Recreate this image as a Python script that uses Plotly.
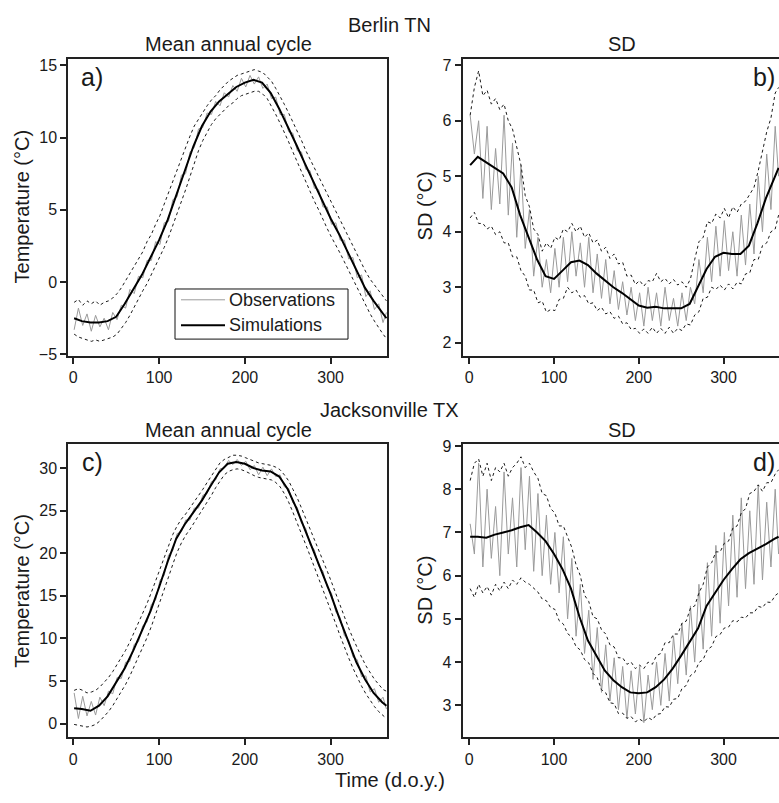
import plotly.graph_objects as go

W, H = 779, 803

# x grids (day of year)
DAYS5 = list(range(1, 362, 5)) + [365]
DAYS10 = [1] + list(range(10, 361, 10)) + [365]

# ---------------- Berlin TN : mean annual cycle (deg C) ----------------
berlin_mean_obs = [
    -3.3, -1.8, -3.0, -2.2, -3.4, -2.3, -3.1, -2.5, -3.3, -2.1,
    -2.6, -1.6, -1.8, -0.5, -0.8, 0.4, 0.3, 1.5, 1.5, 2.8,
    2.6, 4.1, 4.2, 5.7, 5.9, 7.4, 7.5, 9.0, 9.3, 10.6,
    10.7, 11.7, 11.6, 12.5, 12.2, 13.1, 12.8, 13.6, 13.2, 14.1,
    13.5, 14.3, 13.7, 14.2, 13.4, 13.7, 12.7, 12.8, 11.6, 11.6,
    10.4, 10.3, 9.1, 9.0, 7.8, 7.7, 6.5, 6.4, 5.2, 5.2,
    4.0, 4.1, 2.9, 2.9, 1.6, 1.7, 0.3, 0.5, -1.0, -0.6,
    -1.9, -1.5, -2.8, -2.1]
berlin_mean_upper = [
    -1.4, -1.2, -1.6, -1.3, -1.5, -1.3, -1.6, -1.4, -1.3, -1.1,
    -0.8, -0.4, 0.1, 0.6, 1.0, 1.6, 2.1, 2.8, 3.3, 4.0,
    4.6, 5.4, 6.2, 7.0, 7.8, 8.6, 9.3, 10.1, 10.8, 11.3,
    11.8, 12.2, 12.6, 12.9, 13.3, 13.6, 13.9, 14.1, 14.3, 14.4,
    14.5, 14.6, 14.7, 14.6, 14.5, 14.2, 13.9, 13.4, 12.9, 12.3,
    11.7, 11.1, 10.4, 9.8, 9.1, 8.5, 7.8, 7.2, 6.6, 6.0,
    5.4, 4.9, 4.3, 3.7, 3.1, 2.5, 1.9, 1.3, 0.7, 0.2,
    -0.2, -0.6, -1.0, -1.3]
berlin_mean_lower = [
    -3.6, -3.8, -3.9, -4.0, -4.1, -4.0, -4.1, -4.0, -3.9, -3.8,
    -3.6, -3.2, -2.8, -2.3, -1.7, -1.2, -0.6, -0.1, 0.5, 1.1,
    1.7, 2.4, 3.1, 3.9, 4.7, 5.6, 6.4, 7.3, 8.2, 9.1,
    9.8, 10.4, 10.9, 11.3, 11.6, 11.9, 12.2, 12.4, 12.7, 12.9,
    13.0, 13.1, 13.2, 13.2, 13.0, 12.7, 12.2, 11.6, 11.0, 10.4,
    9.7, 9.0, 8.3, 7.6, 7.0, 6.3, 5.6, 5.0, 4.3, 3.7,
    3.1, 2.6, 2.0, 1.4, 0.8, 0.1, -0.5, -1.1, -1.7, -2.2,
    -2.7, -3.2, -3.6, -3.9]
berlin_mean_sim = [
    -2.5, -2.7, -2.8, -2.8, -2.7, -2.4, -1.5, -0.5, 0.5, 1.7,
    2.9, 4.3, 6.0, 7.6, 9.4, 10.8, 11.8, 12.5, 13.0, 13.5,
    13.8, 14.0, 13.8, 13.1, 12.0, 10.8, 9.5, 8.2, 6.9, 5.6,
    4.4, 3.3, 2.1, 0.8, -0.4, -1.3, -2.1,
    -2.5]

# ---------------- Berlin TN : SD (deg C) ----------------
berlin_sd_obs = [
    6.1, 5.4, 6.0, 4.6, 5.9, 4.4, 5.5, 4.5, 6.1, 4.3,
    5.6, 3.9, 5.2, 3.7, 4.4, 3.2, 3.9, 3.0, 3.5, 2.9,
    3.7, 3.0, 3.9, 3.1, 4.0, 3.2, 3.8, 3.0, 3.9, 2.9,
    3.6, 2.8, 3.5, 2.7, 3.3, 2.6, 3.1, 2.5, 3.0, 2.4,
    2.9, 2.3, 3.0, 2.4, 2.9, 2.3, 3.0, 2.4, 2.8, 2.3,
    2.9, 2.4, 3.0, 2.7, 3.5, 2.9, 3.9, 3.1, 4.1, 3.2,
    4.2, 3.3, 4.0, 3.2, 4.3, 3.4, 4.5, 3.6, 5.0, 4.0,
    5.4, 4.4, 5.9, 5.0]
berlin_sd_upper = [
    6.1, 6.6, 6.9, 6.45, 6.55, 6.3, 6.4, 6.2, 6.3, 6.0,
    5.85, 5.5, 5.2, 4.65, 4.45, 4.05, 3.95, 3.65, 3.8, 3.7,
    3.9, 3.85, 4.05, 4.0, 4.15, 4.0, 4.1, 3.9, 3.98, 3.8,
    3.85, 3.65, 3.72, 3.52, 3.6, 3.42, 3.45, 3.2, 3.22, 3.05,
    3.12, 3.02, 3.12, 3.1, 3.25, 3.1, 3.16, 3.06, 3.14, 3.04,
    3.1, 3.0, 3.15, 3.5, 3.82, 3.9, 4.18, 4.15, 4.32, 4.25,
    4.42, 4.25, 4.45, 4.35, 4.5, 4.55, 4.68, 4.8, 5.1, 5.45,
    5.8, 6.05, 6.5, 6.6]
berlin_sd_lower = [
    4.25, 4.35, 4.15, 4.15, 4.05, 4.1, 3.95, 4.0, 3.8, 3.8,
    3.55, 3.55, 3.3, 3.2, 2.95, 2.95, 2.72, 2.75, 2.55, 2.6,
    2.58, 2.78, 2.8, 3.0, 2.9, 2.95, 2.82, 2.85, 2.7, 2.72,
    2.58, 2.64, 2.52, 2.56, 2.44, 2.48, 2.34, 2.36, 2.24, 2.26,
    2.17, 2.25, 2.17, 2.28, 2.17, 2.26, 2.17, 2.28, 2.17, 2.26,
    2.22, 2.34, 2.32, 2.5, 2.56, 2.8, 2.82, 3.0, 2.96, 3.04,
    2.95, 3.06, 2.97, 3.09, 3.06, 3.24, 3.26, 3.5, 3.5, 3.75,
    3.8, 4.0, 4.05, 4.3]
berlin_sd_sim = [
    5.2, 5.35, 5.25, 5.15, 5.05, 4.8, 4.3, 3.9, 3.5, 3.2,
    3.15, 3.3, 3.45, 3.48, 3.4, 3.25, 3.12, 3.0, 2.9, 2.78,
    2.67, 2.63, 2.65, 2.62, 2.62, 2.62, 2.7, 3.02, 3.33, 3.55,
    3.62, 3.6, 3.6, 3.75, 4.15, 4.6, 4.95,
    5.15]

# ---------------- Jacksonville TX : mean annual cycle (deg C) ----------------
jax_mean_obs = [
    3.6, 0.6, 3.2, 0.9, 2.6, 1.0, 3.1, 2.1, 3.8, 3.5,
    5.4, 5.3, 7.2, 7.3, 9.3, 9.6, 11.5, 11.9, 14.0, 14.5,
    16.8, 17.4, 19.8, 20.3, 22.3, 22.5, 23.9, 23.9, 25.3, 25.3,
    26.8, 27.0, 28.4, 28.6, 29.9, 30.0, 30.9, 30.4, 31.0, 30.3,
    30.8, 29.8, 30.3, 29.2, 30.1, 29.1, 29.9, 29.0, 29.2, 27.8,
    27.6, 25.9, 25.4, 23.5, 22.9, 21.0, 20.4, 18.5, 17.9, 16.0,
    15.3, 13.1, 12.5, 10.3, 9.8, 7.8, 7.5, 5.5, 5.6, 3.7,
    4.1, 2.5, 3.1, 1.7]
jax_mean_upper = [
    3.9, 4.1, 3.9, 3.6, 3.7, 3.9, 4.3, 4.8, 5.4, 6.1,
    6.9, 7.7, 8.6, 9.6, 10.7, 11.8, 12.9, 14.1, 15.4, 16.8,
    18.2, 19.6, 21.0, 22.2, 23.2, 24.0, 24.6, 25.3, 26.0, 26.7,
    27.5, 28.3, 29.1, 29.9, 30.6, 31.0, 31.3, 31.5, 31.5, 31.4,
    31.2, 31.0, 30.8, 30.6, 30.5, 30.4, 30.3, 30.1, 29.8, 29.2,
    28.5, 27.5, 26.5, 25.3, 24.1, 22.9, 21.7, 20.5, 19.2, 17.9,
    16.6, 15.2, 13.8, 12.5, 11.2, 10.0, 8.8, 7.8, 6.8, 6.0,
    5.2, 4.6, 4.0, 3.8]
jax_mean_lower = [
    -0.1, -0.2, -0.3, -0.4, -0.3, -0.1, 0.3, 0.8, 1.4, 2.1,
    2.9, 3.7, 4.6, 5.6, 6.7, 7.8, 8.9, 10.1, 11.4, 12.8,
    14.2, 15.7, 17.2, 18.7, 20.1, 21.2, 22.1, 22.8, 23.6, 24.4,
    25.1, 25.9, 26.8, 27.7, 28.5, 29.2, 29.6, 29.8, 29.9, 29.8,
    29.6, 29.3, 29.1, 28.9, 28.8, 28.7, 28.6, 28.3, 27.8, 27.0,
    26.0, 24.8, 23.6, 22.3, 21.0, 19.7, 18.4, 17.1, 15.8, 14.5,
    13.1, 11.7, 10.3, 8.9, 7.7, 6.5, 5.4, 4.4, 3.5, 2.7,
    2.0, 1.4, 0.9, 0.6]
jax_mean_sim = [
    1.8, 1.7, 1.5, 2.1, 3.2, 4.8, 6.5, 8.6, 10.8, 13.2,
    16.0, 19.0, 21.7, 23.4, 24.8, 26.2, 27.9, 29.5, 30.5, 30.7,
    30.5, 30.0, 29.7, 29.6, 29.0, 27.5, 25.3, 22.8, 20.3, 17.8,
    15.2, 12.4, 9.7, 7.2, 5.2, 3.6, 2.5,
    2.1]

# ---------------- Jacksonville TX : SD (deg C) ----------------
jax_sd_obs = [
    7.2, 6.5, 8.6, 6.2, 8.0, 6.4, 7.6, 6.0, 8.4, 6.5,
    7.8, 6.2, 8.5, 6.6, 8.3, 6.1, 7.9, 6.0, 7.4, 5.8,
    7.0, 5.6, 6.9, 5.0, 6.4, 4.6, 5.8, 4.2, 5.2, 3.6,
    4.8, 3.3, 4.4, 3.1, 4.1, 2.9, 3.9, 2.7, 3.8, 2.8,
    3.9, 2.6, 3.7, 2.9, 4.0, 3.0, 4.2, 3.1, 4.6, 3.5,
    4.9, 3.7, 5.3, 4.0, 5.8, 4.3, 6.3, 4.6, 6.7, 4.9,
    7.0, 5.3, 7.4, 5.5, 7.8, 5.7, 7.5, 5.8, 8.1, 5.9,
    7.7, 6.2, 8.0, 6.5]
jax_sd_upper = [
    8.2, 8.6, 8.7, 8.3, 8.6, 8.2, 8.5, 8.4, 8.6, 8.3,
    8.5, 8.6, 8.75, 8.5, 8.6, 8.4, 8.25, 7.9, 7.85, 7.55,
    7.45, 7.15, 7.15, 6.9, 6.65, 6.25, 6.0, 5.55, 5.4, 5.05,
    5.0, 4.75, 4.65, 4.4, 4.35, 4.1, 4.1, 3.95, 4.0, 3.85,
    3.93, 3.85, 4.0, 3.95, 4.15, 4.2, 4.45, 4.45, 4.65, 4.65,
    4.9, 4.95, 5.25, 5.3, 5.6, 5.8, 6.2, 6.3, 6.55, 6.55,
    6.75, 6.8, 7.1, 7.15, 7.45, 7.55, 7.9, 7.95, 8.1, 7.95,
    8.15, 8.15, 8.35, 8.45]
jax_sd_lower = [
    5.7, 5.5, 5.8, 5.6, 5.75, 5.55, 5.8, 5.65, 5.85, 5.7,
    5.9, 5.8, 5.95, 5.85, 5.8, 5.7, 5.62, 5.46, 5.42, 5.26,
    5.22, 4.96, 4.88, 4.66, 4.58, 4.36, 4.28, 4.06, 3.98, 3.74,
    3.64, 3.36, 3.29, 3.06, 3.04, 2.81, 2.82, 2.7, 2.74, 2.62,
    2.68, 2.62, 2.72, 2.66, 2.79, 2.81, 2.97, 2.96, 3.14, 3.16,
    3.39, 3.46, 3.69, 3.76, 3.99, 4.06, 4.29, 4.36, 4.59, 4.64,
    4.79, 4.81, 4.96, 4.93, 5.04, 5.02, 5.14, 5.14, 5.29, 5.26,
    5.39, 5.38, 5.54, 5.6]
jax_sd_sim = [
    6.9, 6.9, 6.88, 6.95, 7.0, 7.05, 7.12, 7.17, 7.0, 6.8,
    6.5, 6.15, 5.7, 5.05, 4.5, 4.15, 3.8, 3.58, 3.42, 3.3,
    3.28, 3.3, 3.42, 3.6, 3.85, 4.15, 4.45, 4.78, 5.3, 5.6,
    5.9, 6.15, 6.38, 6.52, 6.62, 6.73, 6.85,
    6.9]

X_TICKS = [0, 100, 200, 300]
TICKS_A = [-5, 0, 5, 10, 15]
TICKS_B = [2, 3, 4, 5, 6, 7]
TICKS_C = [0, 5, 10, 15, 20, 25, 30]
TICKS_D = [3, 4, 5, 6, 7, 8, 9]
LEGEND_LABELS = ["Observations", "Simulations"]

FONT = "Liberation Sans, Arial, Helvetica, sans-serif"
OBS_COL = "#9a9a9a"
LINE_COL = "#1a1a1a"
TEXT_COL = "#1a1a1a"


def fx(p):
    return p / W


def fy(p):
    return 1 - p / H


fig = go.Figure()

panels = [
    ("x", "y", berlin_mean_obs, berlin_mean_upper, berlin_mean_lower, berlin_mean_sim),
    ("x2", "y2", berlin_sd_obs, berlin_sd_upper, berlin_sd_lower, berlin_sd_sim),
    ("x3", "y3", jax_mean_obs, jax_mean_upper, jax_mean_lower, jax_mean_sim),
    ("x4", "y4", jax_sd_obs, jax_sd_upper, jax_sd_lower, jax_sd_sim),
]

for xa, ya, obs, up, lo, sim in panels:
    fig.add_trace(go.Scatter(x=DAYS5, y=obs, xaxis=xa, yaxis=ya, mode="lines",
                             line=dict(color=OBS_COL, width=1), name=LEGEND_LABELS[0],
                             showlegend=False, hoverinfo="skip"))
    for env in (up, lo):
        fig.add_trace(go.Scatter(x=DAYS5, y=env, xaxis=xa, yaxis=ya, mode="lines",
                                 line=dict(color=LINE_COL, width=1, dash="dot"),
                                 showlegend=False, hoverinfo="skip"))
    fig.add_trace(go.Scatter(x=DAYS10, y=sim, xaxis=xa, yaxis=ya, mode="lines",
                             line=dict(color="#000000", width=2), name=LEGEND_LABELS[1],
                             showlegend=False, hoverinfo="skip"))

# pixel geometry
L_LEFT, L_RIGHT = 68.3, 387.3
R_LEFT, R_RIGHT = 462.7, 779.0
T_TOP, T_BOT = 53.3, 355.0
B_TOP, B_BOT = 445.0, 743.3

common_axis = dict(showgrid=False, zeroline=False, showline=True, linecolor="#222222",
                   linewidth=2, ticks="outside", ticklen=6, tickwidth=1.5,
                   tickcolor="#222222", tickfont=dict(family=FONT, size=16, color=TEXT_COL))

fig.update_layout(
    width=W, height=H,
    margin=dict(l=0, r=0, t=0, b=0),
    paper_bgcolor="white", plot_bgcolor="white",
    font=dict(family=FONT, color=TEXT_COL),
    showlegend=False,
    xaxis=dict(domain=[fx(L_LEFT), fx(L_RIGHT)], range=[-5.8, 366], tickvals=X_TICKS,
               mirror=True, anchor="y", **common_axis),
    yaxis=dict(domain=[fy(T_BOT), fy(T_TOP)], range=[-5.1, 15.41], tickvals=TICKS_A,
               mirror=True, anchor="x", **common_axis),
    xaxis2=dict(domain=[fx(R_LEFT), fx(R_RIGHT)], range=[-7.8, 365.5], tickvals=X_TICKS,
                mirror=True, anchor="y2", **common_axis),
    yaxis2=dict(domain=[fy(T_BOT), fy(T_TOP)], range=[1.765, 7.106], tickvals=TICKS_B,
                mirror=False, anchor="x2", **common_axis),
    xaxis3=dict(domain=[fx(L_LEFT), fx(L_RIGHT)], range=[-5.8, 366], tickvals=X_TICKS,
                mirror=True, anchor="y3", **common_axis),
    yaxis3=dict(domain=[fy(B_BOT), fy(B_TOP)], range=[-1.615, 32.79], tickvals=TICKS_C,
                mirror=True, anchor="x3", **common_axis),
    xaxis4=dict(domain=[fx(R_LEFT), fx(R_RIGHT)], range=[-7.8, 365.5], tickvals=X_TICKS,
                mirror=True, anchor="y4", **common_axis),
    yaxis4=dict(domain=[fy(B_BOT), fy(B_TOP)], range=[2.26, 9.04], tickvals=TICKS_D,
                mirror=False, anchor="x4", **common_axis),
)

# legend box (panel a)
fig.add_shape(type="rect", xref="paper", yref="paper",
              x0=fx(175), x1=fx(348), y0=fy(338), y1=fy(287),
              line=dict(color="#111111", width=1), fillcolor="white", layer="above")
fig.add_shape(type="line", xref="paper", yref="paper",
              x0=fx(181), x1=fx(225), y0=fy(298), y1=fy(298),
              line=dict(color=OBS_COL, width=1), layer="above")
fig.add_shape(type="line", xref="paper", yref="paper",
              x0=fx(181), x1=fx(225), y0=fy(324), y1=fy(324),
              line=dict(color="#000000", width=2), layer="above")

TXT = dict(family=FONT, size=20, color=TEXT_COL)
LAB = dict(family=FONT, size=25, color=TEXT_COL)
LEG = dict(family=FONT, size=18, color=TEXT_COL)
ann = [
    ("Berlin TN", 389.5, 18, 0, TXT, "center"),
    ("Mean annual cycle", 228, 38, 0, TXT, "center"),
    ("SD", 622, 38, 0, TXT, "center"),
    ("Jacksonville TX", 389.5, 410, 0, TXT, "center"),
    ("Mean annual cycle", 228, 430, 0, TXT, "center"),
    ("SD", 622, 430, 0, TXT, "center"),
    ("Time (d.o.y.)", 389.5, 787, 0, TXT, "center"),
    ("Temperature (°C)", 22, 203, -90, TXT, "center"),
    ("Temperature (°C)", 22, 594, -90, TXT, "center"),
    ("SD (°C)", 425, 203, -90, TXT, "center"),
    ("SD (°C)", 425, 594, -90, TXT, "center"),
    ("a)", 92, 71, 0, LAB, "center"),
    ("b)", 764, 71, 0, LAB, "center"),
    ("c)", 92, 463, 0, LAB, "center"),
    ("d)", 764, 463, 0, LAB, "center"),
    (LEGEND_LABELS[0], 227, 298, 0, LEG, "left"),
    (LEGEND_LABELS[1], 227, 324, 0, LEG, "left"),
]
for text, x, y, ang, f, xa in ann:
    fig.add_annotation(text=text, x=fx(x), y=fy(y), xref="paper", yref="paper",
                       xanchor=xa, yanchor="middle", showarrow=False,
                       textangle=ang, font=f)

fig.write_html("out.html")
